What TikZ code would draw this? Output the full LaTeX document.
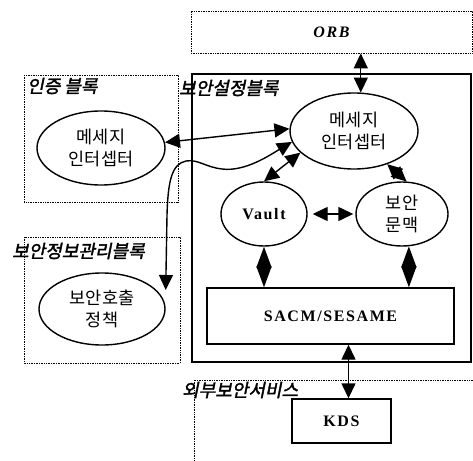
\documentclass[tikz,border=0pt]{standalone}
\usepackage{fontspec}
\setmainfont{Liberation Serif}
\newfontfamily\kofont{Noto Sans CJK KR}
\newfontfamily\kobold[FakeSlant=0.2,FakeBold=2]{Noto Sans CJK KR}
\newfontfamily\enfont[LetterSpace=10]{Liberation Serif}
\usetikzlibrary{shapes.geometric,arrows.meta}

\begin{document}
\begin{tikzpicture}[x=1pt,y=-1pt,
    oval/.style={draw,ellipse,line width=1.4pt,inner sep=0pt,align=center,
      font=\kofont\fontsize{17.5}{22}\selectfont},
    box/.style={draw,rectangle,line width=1.4pt,inner sep=0pt},
    blockline/.style={line width=0.8pt,dash pattern=on 0.8pt off 0.9pt},
    blocklabel/.style={anchor=west,inner sep=0pt,font=\kobold\fontsize{18}{18}\selectfont},
    eng/.style={font=\enfont\bfseries\fontsize{16}{16}\selectfont},
    link/.style={line width=1.4pt,{Triangle[length=15pt,width=14pt]}-{Triangle[length=15pt,width=14pt]}},
    bond/.style={line width=1.4pt,{Triangle[length=21pt,width=15pt]}-{Triangle[length=21pt,width=15pt]}}]
  \useasboundingbox (0,0) rectangle (473,460);

  % block frames
  \draw[blockline] (24,75) rectangle (178,202);
  \draw[blockline] (24,237) rectangle (180,363);
  \draw[line width=1.4pt] (192,74) rectangle (471,362);
  \draw[blockline] (473,380) -- (194,380) -- (194,462);

  \node[blocklabel] (authlbl) at (27,86) {인증 블록};
  \node[blocklabel] (setlbl) at (179,88) {보안설정블록};
  \node[blocklabel] (mgmtlbl) at (12,251) {보안정보관리블록};
  \node[blocklabel] (extlbl) at (182,390) {외부보안서비스};

  % components
  \node[draw,blockline,minimum width=281pt,minimum height=42pt,eng] (orb) at (331.5,32) {\itshape ORB};
  \node[oval,minimum width=128pt,minimum height=76pt] (msg) at (354,131) {메세지\\인터셉터};
  \node[oval,minimum width=128pt,minimum height=74pt] (authmsg) at (101,148) {메세지\\인터셉터};
  \node[oval,minimum width=86pt,minimum height=64pt,eng] (vault) at (264,214) {Vault};
  \node[oval,minimum width=92pt,minimum height=64pt] (ctx) at (402,214) {보안\\문맥};
  \node[oval,minimum width=126pt,minimum height=72pt] (policy) at (102,309) {보안호출\\정책};
  \node[box,minimum width=247pt,minimum height=56pt,eng] (sacm) at (330.5,316) {SACM/SESAME};
  \node[box,minimum width=99pt,minimum height=44pt,eng] (kds) at (341.5,421) {KDS};

  % connectors
  \draw[link] (msg.80) -- (msg.80 |- orb.south);
  \draw[link] (msg.178) -- (authmsg.5);
  \draw[link] (msg.190) .. controls (270,155) and (245,172) .. (222,169)
    .. controls (205,167) and (198,159) .. (186,161)
    .. controls (172,164) and (168,180) .. (167,215) -- ([yshift=19pt]policy.east);
  \draw[link] (msg.202) -- (vault.north);
  \draw[link] (msg.-45) -- (ctx.82);
  \draw[link,shorten <=5pt,shorten >=2pt] (vault.east) -- (ctx.west);

  \draw[bond] (vault.south) -- (vault.south |- sacm.north);
  \draw[bond] (ctx.-78) -- (ctx.-78 |- sacm.north);
  \draw[link] ([xshift=7pt]kds.north) -- ([xshift=7pt]kds.north |- sacm.south);
\end{tikzpicture}
\end{document}
